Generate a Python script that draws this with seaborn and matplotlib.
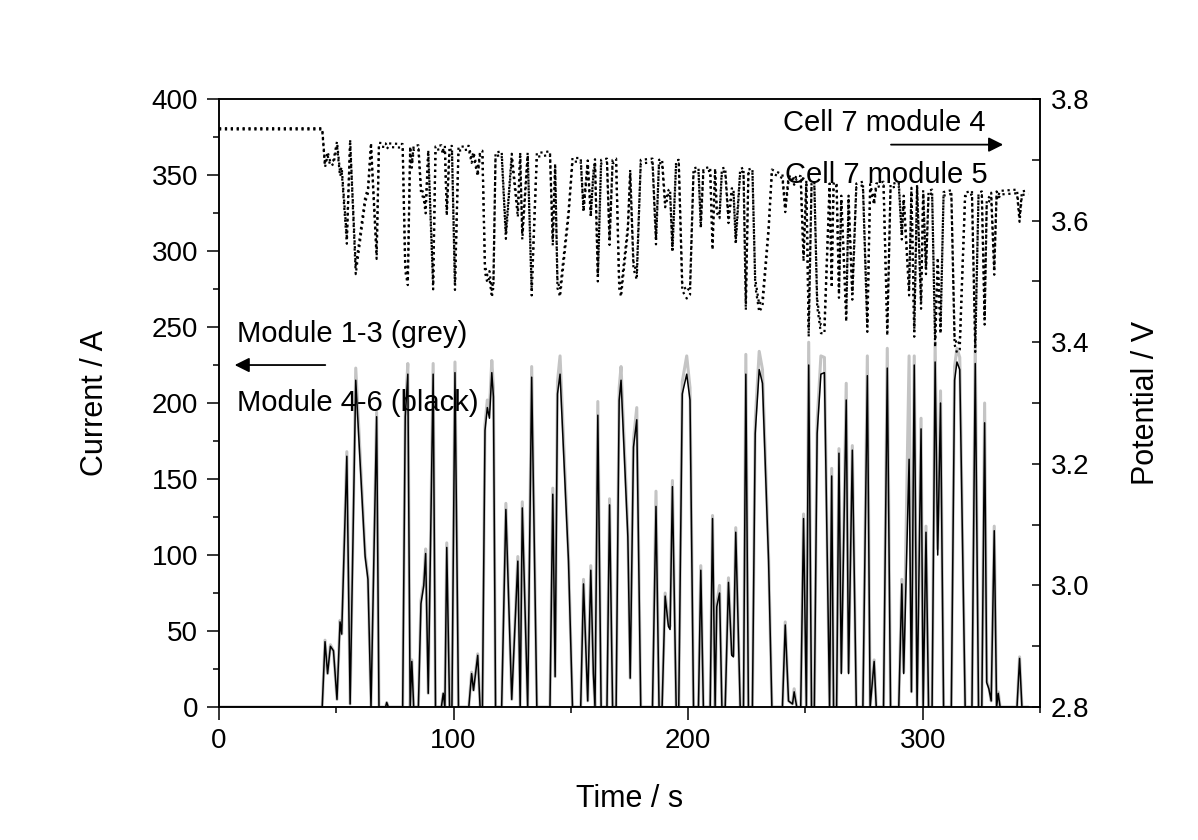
import matplotlib
matplotlib.use('Agg')
import matplotlib.pyplot as plt
import seaborn as sns
from matplotlib.ticker import MultipleLocator

# time axis (s), shared by all traces
time = [0, 44, 45.2, 46.3, 47.5, 48.8, 50.3, 51.6, 52.3, 54.5,
        55.9, 58.3, 62.3, 63.5, 64.8, 67.2, 68.2, 71.0, 71.5, 72.2,
        78.3, 79.4, 80.5, 81.5, 82.2, 83.0, 85.0, 86.1, 87.3, 88.1,
        89.2, 91.3, 92.3, 94.8, 95.6, 96.3, 97.1, 98.3, 99.3, 100.6,
        102.1, 106.5, 107.7, 108.5, 110.3, 111.3, 112.3, 113.4, 114.4, 115.3,
        116.3, 117.0, 117.9, 120.5, 122.3, 124.8, 127.4, 128.4, 129.3, 131.6,
        133.3, 135.5, 141.1, 142.3, 143.3, 144.3, 145.4, 149.0, 150.7, 154.2,
        155.4, 157.2, 158.5, 159.6, 160.3, 161.5, 162.9, 165.4, 166.5, 167.8,
        169.3, 170.6, 171.4, 174.3, 175.3, 176.7, 178.1, 179.8, 184.8, 186.3,
        187.6, 188.9, 190.2, 191.6, 192.3, 193.3, 194.9, 196.0, 197.5, 199.4,
        200.8, 202.3, 204.4, 205.4, 206.5, 209.4, 210.4, 211.5, 212.2, 213.4,
        214.4, 215.8, 217.2, 218.6, 219.3, 220.3, 222.2, 223.6, 224.6, 225.7,
        227.4, 228.6, 230.3, 231.7, 234.3, 235.7, 240.2, 241.4, 242.8, 244.5,
        245.2, 246.3, 248.0, 249.2, 250.4, 251.4, 252.6, 253.8, 255.0, 256.6,
        258.1, 260.3, 261.2, 262.0, 263.3, 264.3, 265.3, 267.4, 268.4, 270.0,
        271.7, 274.5, 276.4, 277.6, 279.3, 280.2, 283.3, 284.9, 286.3, 289.8,
        291.1, 291.9, 294.2, 295.2, 296.4, 297.6, 299.3, 300.2, 301.4, 302.5,
        304.0, 305.3, 306.4, 307.6, 308.9, 312.2, 313.6, 314.6, 315.8, 318.1,
        321.0, 322.4, 323.8, 325.2, 326.4, 327.3, 328.2, 329.2, 330.5, 331.5,
        332.2, 333.0, 340.2, 341.3, 342.3, 345.0]

# current of modules 4-6 (black), A
current_black = [0, 0, 43, 22, 40, 37, 5, 56, 48, 165,
                 2, 215, 99, 84, 0, 191, 0, 0, 3, 0,
                 0, 191, 219, 0, 30, 0, 0, 68, 80, 101,
                 9, 219, 0, 0, 9, 0, 105, 0, 0, 220,
                 0, 0, 22, 11, 34, 0, 0, 182, 197, 190,
                 220, 204, 0, 0, 130, 5, 96, 0, 131, 0,
                 217, 0, 0, 140, 20, 206, 219, 96, 0, 0,
                 81, 4, 90, 22, 0, 192, 0, 0, 133, 0,
                 0, 202, 215, 112, 19, 171, 189, 0, 0, 132,
                 0, 0, 73, 53, 51, 145, 0, 0, 206, 219,
                 202, 0, 0, 90, 0, 0, 124, 0, 66, 75,
                 0, 0, 82, 34, 33, 115, 0, 0, 219, 0,
                 0, 180, 222, 213, 96, 0, 0, 54, 4, 2,
                 10, 0, 0, 124, 0, 225, 0, 0, 180, 219,
                 220, 0, 152, 0, 0, 167, 22, 202, 22, 169,
                 0, 0, 218, 0, 30, 0, 0, 223, 0, 0,
                 81, 22, 163, 10, 225, 0, 183, 0, 115, 0,
                 0, 227, 100, 200, 0, 0, 215, 227, 222, 0,
                 0, 226, 0, 0, 187, 16, 12, 4, 116, 0,
                 9, 0, 0, 32, 0, 0]

# current of modules 1-3 (grey), A
current_grey = [0, 0, 44, 22, 41, 37, 5, 57, 48, 168,
                2, 223, 101, 86, 0, 194, 0, 0, 3, 0,
                0, 194, 226, 0, 31, 0, 0, 70, 82, 104,
                9, 226, 0, 0, 9, 0, 108, 0, 0, 227,
                0, 0, 23, 11, 35, 0, 0, 186, 202, 196,
                228, 210, 0, 0, 134, 5, 99, 0, 135, 0,
                224, 0, 0, 144, 20, 214, 231, 99, 0, 0,
                84, 4, 93, 22, 0, 201, 0, 0, 137, 0,
                0, 210, 224, 116, 19, 176, 197, 0, 0, 142,
                0, 0, 75, 55, 53, 149, 0, 0, 214, 231,
                210, 0, 0, 93, 0, 0, 126, 0, 68, 80,
                0, 0, 85, 35, 34, 118, 0, 0, 232, 0,
                0, 188, 234, 222, 99, 0, 0, 56, 4, 2,
                12, 0, 0, 127, 0, 240, 0, 0, 188, 231,
                230, 0, 157, 0, 0, 170, 23, 213, 23, 172,
                0, 0, 231, 0, 31, 0, 0, 236, 0, 0,
                84, 23, 231, 10, 231, 0, 190, 0, 119, 0,
                0, 240, 104, 208, 0, 0, 224, 236, 230, 0,
                0, 238, 0, 0, 200, 17, 13, 4, 119, 0,
                10, 0, 0, 33, 0, 0]

# cell 7 potential, module 4, V
potential_mod4 = [3.752, 3.752, 3.693, 3.713, 3.696, 3.699, 3.730, 3.680, 3.688, 3.573,
                  3.733, 3.524, 3.638, 3.653, 3.728, 3.548, 3.728, 3.727, 3.724, 3.727,
                  3.726, 3.528, 3.505, 3.722, 3.694, 3.723, 3.724, 3.655, 3.643, 3.621,
                  3.716, 3.499, 3.722, 3.724, 3.716, 3.723, 3.617, 3.722, 3.723, 3.498,
                  3.721, 3.723, 3.702, 3.713, 3.680, 3.714, 3.715, 3.526, 3.510, 3.517,
                  3.486, 3.503, 3.712, 3.714, 3.580, 3.710, 3.615, 3.712, 3.579, 3.712,
                  3.489, 3.711, 3.714, 3.569, 3.694, 3.501, 3.487, 3.615, 3.703, 3.703,
                  3.622, 3.699, 3.613, 3.681, 3.701, 3.511, 3.700, 3.702, 3.570, 3.700,
                  3.702, 3.501, 3.488, 3.591, 3.684, 3.532, 3.514, 3.700, 3.702, 3.571,
                  3.700, 3.701, 3.630, 3.650, 3.652, 3.558, 3.699, 3.700, 3.497, 3.484,
                  3.490, 3.686, 3.688, 3.596, 3.686, 3.688, 3.562, 3.686, 3.621, 3.612,
                  3.686, 3.687, 3.604, 3.653, 3.654, 3.571, 3.685, 3.687, 3.465, 3.684,
                  3.686, 3.504, 3.462, 3.471, 3.590, 3.684, 3.676, 3.621, 3.672, 3.674,
                  3.666, 3.675, 3.673, 3.543, 3.666, 3.422, 3.662, 3.664, 3.471, 3.428,
                  3.427, 3.661, 3.501, 3.661, 3.663, 3.485, 3.641, 3.447, 3.641, 3.482,
                  3.661, 3.664, 3.430, 3.660, 3.633, 3.661, 3.664, 3.424, 3.660, 3.663,
                  3.578, 3.641, 3.489, 3.654, 3.422, 3.660, 3.467, 3.650, 3.522, 3.649,
                  3.651, 3.405, 3.539, 3.426, 3.647, 3.650, 3.409, 3.396, 3.401, 3.646,
                  3.649, 3.397, 3.646, 3.648, 3.441, 3.634, 3.638, 3.646, 3.521, 3.648,
                  3.641, 3.649, 3.651, 3.605, 3.648, 3.650]

# cell 7 potential, module 5, V
potential_mod5 = [3.750, 3.750, 3.688, 3.707, 3.690, 3.693, 3.724, 3.673, 3.681, 3.562,
                  3.727, 3.512, 3.630, 3.645, 3.722, 3.537, 3.722, 3.721, 3.718, 3.721,
                  3.720, 3.517, 3.494, 3.716, 3.687, 3.717, 3.718, 3.647, 3.635, 3.612,
                  3.709, 3.487, 3.716, 3.718, 3.709, 3.717, 3.608, 3.716, 3.717, 3.486,
                  3.715, 3.717, 3.695, 3.706, 3.673, 3.708, 3.709, 3.515, 3.498, 3.506,
                  3.474, 3.491, 3.706, 3.708, 3.570, 3.703, 3.606, 3.706, 3.569, 3.706,
                  3.477, 3.705, 3.708, 3.559, 3.687, 3.489, 3.475, 3.606, 3.697, 3.697,
                  3.614, 3.692, 3.605, 3.674, 3.695, 3.500, 3.694, 3.696, 3.560, 3.694,
                  3.696, 3.489, 3.475, 3.581, 3.677, 3.521, 3.503, 3.694, 3.696, 3.561,
                  3.694, 3.695, 3.622, 3.643, 3.645, 3.548, 3.693, 3.694, 3.485, 3.472,
                  3.478, 3.680, 3.682, 3.587, 3.680, 3.682, 3.552, 3.680, 3.613, 3.604,
                  3.680, 3.681, 3.596, 3.646, 3.647, 3.561, 3.679, 3.681, 3.453, 3.678,
                  3.680, 3.493, 3.450, 3.459, 3.581, 3.678, 3.670, 3.614, 3.665, 3.668,
                  3.659, 3.669, 3.667, 3.533, 3.660, 3.409, 3.656, 3.658, 3.459, 3.415,
                  3.414, 3.655, 3.490, 3.655, 3.657, 3.473, 3.634, 3.434, 3.634, 3.470,
                  3.655, 3.658, 3.417, 3.654, 3.626, 3.655, 3.658, 3.411, 3.654, 3.657,
                  3.569, 3.634, 3.477, 3.647, 3.409, 3.654, 3.455, 3.644, 3.512, 3.643,
                  3.645, 3.392, 3.529, 3.414, 3.641, 3.644, 3.396, 3.383, 3.388, 3.640,
                  3.643, 3.384, 3.640, 3.642, 3.429, 3.627, 3.631, 3.639, 3.511, 3.642,
                  3.634, 3.643, 3.645, 3.598, 3.642, 3.644]

sns.set_style('ticks')
plt.rcParams['font.family'] = ['Liberation Sans', 'DejaVu Sans']
plt.rcParams['axes.linewidth'] = 1.1
plt.rcParams['text.color'] = 'black'
plt.rcParams['axes.labelcolor'] = 'black'
plt.rcParams['xtick.color'] = 'black'
plt.rcParams['ytick.color'] = 'black'
plt.rcParams['axes.edgecolor'] = 'black'

fig = plt.figure(figsize=(11.98, 8.4), dpi=100)
ax = fig.add_axes([0.1828, 0.1583, 0.6853, 0.7238])
ax2 = ax.twinx()

sns.lineplot(x=time, y=current_grey, ax=ax, color='#c4c4c4', lw=2.2,
             estimator=None, sort=False)
sns.lineplot(x=time, y=current_black, ax=ax, color='black', lw=1.1,
             estimator=None, sort=False)
sns.lineplot(x=time, y=potential_mod4, ax=ax2, color='black', lw=1.6,
             estimator=None, sort=False, linestyle=':')
sns.lineplot(x=time, y=potential_mod5, ax=ax2, color='black', lw=1.6,
             estimator=None, sort=False, linestyle=':')

ax.set_xlim(0, 350)
ax.set_ylim(0, 400)
ax2.set_ylim(2.8, 3.8)

ax.xaxis.set_major_locator(MultipleLocator(100))
ax.xaxis.set_minor_locator(MultipleLocator(50))
ax.yaxis.set_major_locator(MultipleLocator(50))
ax.yaxis.set_minor_locator(MultipleLocator(25))
ax2.yaxis.set_major_locator(MultipleLocator(0.2))
ax2.yaxis.set_minor_locator(MultipleLocator(0.1))
ax2.yaxis.set_major_formatter(matplotlib.ticker.FormatStrFormatter('%.1f'))

ax.tick_params(axis='both', which='major', direction='out', length=9, width=1.1,
               labelsize=20, pad=6, top=False, right=False, colors='black')
ax.tick_params(axis='both', which='minor', direction='out', length=4.5, width=1.1,
               top=False, right=False, colors='black')
ax2.tick_params(axis='y', which='major', direction='in', length=6, width=1.1,
                labelsize=20, pad=8, colors='black')
ax2.tick_params(axis='y', which='minor', direction='in', length=6, width=1.1,
                colors='black')

ax.set_xlabel('Time / s', fontsize=22, labelpad=22)
ax.set_ylabel('Current / A', fontsize=22, labelpad=30)
ax2.set_ylabel('Potential / V', fontsize=22, labelpad=30)

for a in (ax, ax2):
    for s in a.spines.values():
        s.set_visible(True)
        s.set_linewidth(1.1)
        s.set_color('black')

arrow = dict(arrowstyle='-|>', color='black', lw=1.3, mutation_scale=22)
ax.text(7.7, 240, 'Module 1-3 (grey)', fontsize=21, va='baseline')
ax.annotate('', xy=(5.5, 225), xytext=(46.5, 225), arrowprops=arrow)
ax.text(7.7, 195, 'Module 4-6 (black)', fontsize=21, va='baseline')
ax.text(240.5, 379, 'Cell 7 module 4', fontsize=21, va='baseline')
ax.annotate('', xy=(335.5, 370), xytext=(285.3, 370), arrowprops=arrow)
ax.text(241.4, 345, 'Cell 7 module 5', fontsize=21, va='baseline')

fig.savefig('out.png', dpi=100)
